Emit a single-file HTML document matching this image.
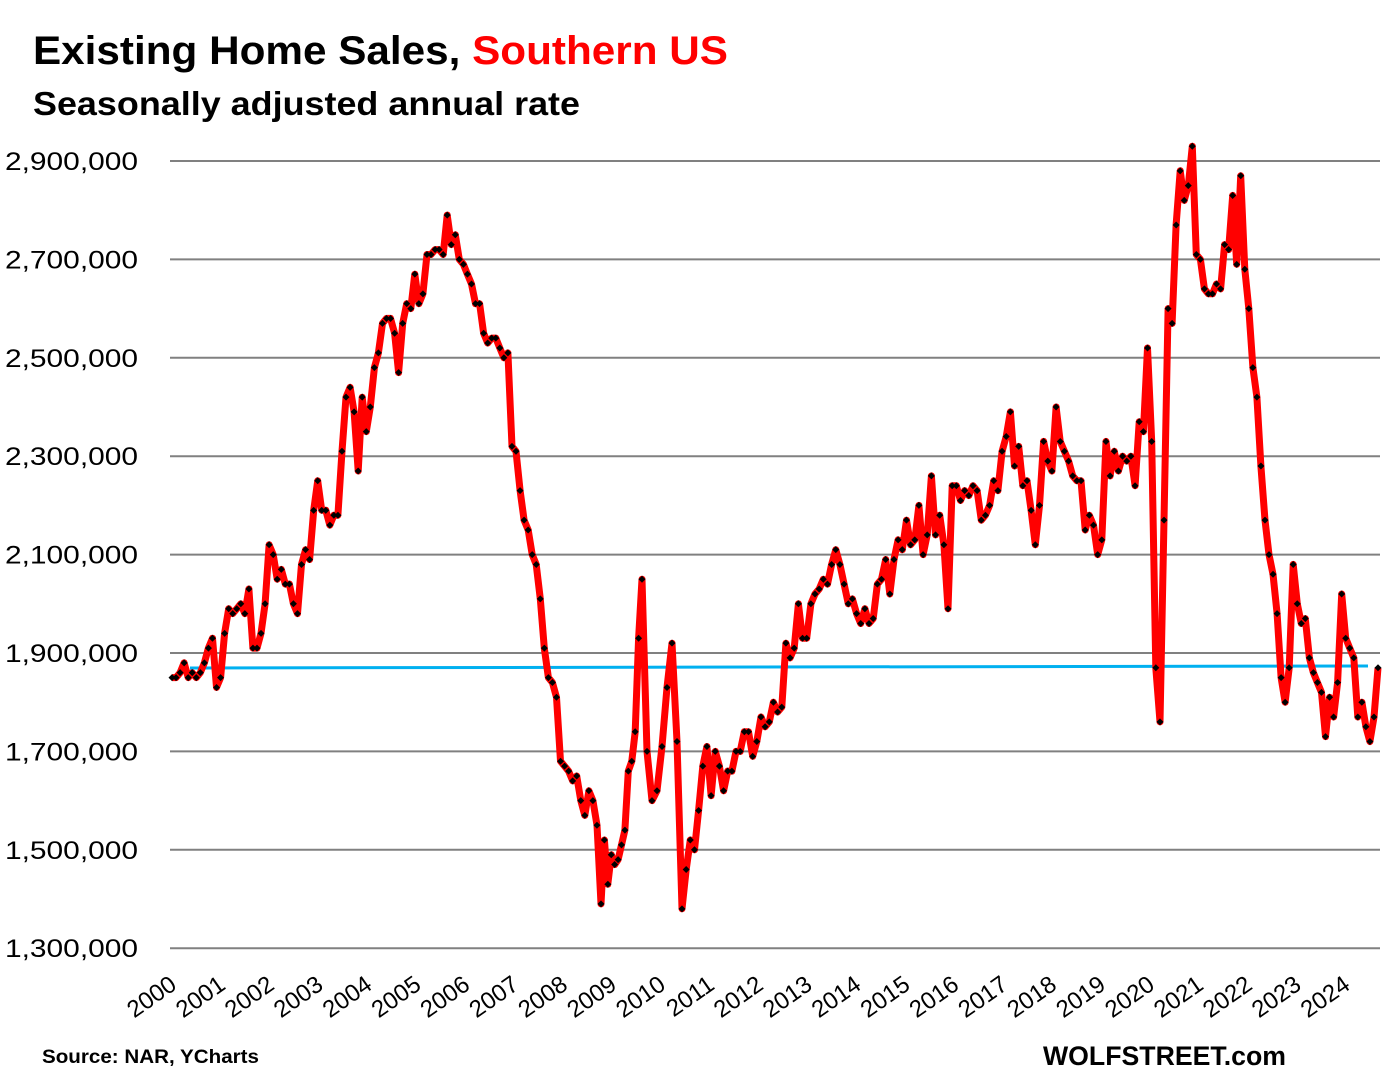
<!DOCTYPE html>
<html><head><meta charset="utf-8"><style>
html,body{margin:0;padding:0;background:#fff;}
svg{display:block;font-family:"Liberation Sans",sans-serif;}
</style></head><body>
<svg id="s" width="1395" height="1080" viewBox="0 0 1395 1080" xmlns="http://www.w3.org/2000/svg">
<text x="33" y="64" font-size="40" font-weight="bold" textLength="695" lengthAdjust="spacingAndGlyphs"><tspan fill="#000">Existing Home Sales, </tspan><tspan fill="#ff0000">Southern US</tspan></text>
<text x="33" y="115" font-size="33" font-weight="bold" fill="#000" textLength="547" lengthAdjust="spacingAndGlyphs">Seasonally adjusted annual rate</text>
<g id="grid" stroke="#808080" stroke-width="2"></g>
<g id="ylab" font-size="25" fill="#000" text-anchor="end"></g>
<g id="xlab" font-size="24" fill="#000" text-anchor="end"></g>
<line x1="190" y1="668" x2="1368" y2="666" stroke="#00b0f0" stroke-width="3"/>
<path id="ln" fill="none" stroke="#ff0000" stroke-width="7" stroke-linejoin="round"/>
<g id="mk" fill="#000"></g>
<text x="42" y="1063" font-size="19" font-weight="bold" textLength="217" lengthAdjust="spacingAndGlyphs">Source: NAR, YCharts</text>
<text x="1043" y="1065" font-size="27" font-weight="bold" textLength="243" lengthAdjust="spacingAndGlyphs">WOLFSTREET.com</text>
</svg>
<script>
var NS="http://www.w3.org/2000/svg";
function el(t,a,p){var e=document.createElementNS(NS,t);for(var k in a)e.setAttribute(k,a[k]);document.getElementById(p).appendChild(e);return e;}
function Y(v){return 161+(2900-v)/200*98.4;}
var labs=["2,900,000","2,700,000","2,500,000","2,300,000","2,100,000","1,900,000","1,700,000","1,500,000","1,300,000"];
for(var i=0;i<9;i++){var v=2900-200*i,y=Y(v);el("line",{x1:170,x2:1380,y1:y,y2:y},"grid");
var t=el("text",{x:138,y:y+9,textLength:133,lengthAdjust:"spacingAndGlyphs"},"ylab");t.textContent=labs[i];}
for(var yr=0;yr<25;yr++){var x=178+yr*48.9,y=988;var t=el("text",{x:x,y:y,transform:"rotate(-35 "+x+" "+y+")"},"xlab");t.textContent=String(2000+yr);}
var d=[1850,1850,1860,1880,1850,1860,1850,1860,1880,1910,1930,1830,1850,1940,1990,1980,1990,2000,1980,2030,1910,1910,1940,2000,2120,2100,2050,2070,2040,2040,2000,1980,2080,2110,2090,2190,2250,2190,2190,2160,2180,2180,2310,2420,2440,2390,2270,2420,2350,2400,2480,2510,2570,2580,2580,2550,2470,2570,2610,2600,2670,2610,2630,2710,2710,2720,2720,2710,2790,2730,2750,2700,2690,2670,2650,2610,2610,2550,2530,2540,2540,2520,2500,2510,2320,2310,2230,2170,2150,2100,2080,2010,1910,1850,1840,1810,1680,1670,1660,1640,1650,1600,1570,1620,1600,1550,1390,1520,1430,1490,1470,1480,1510,1540,1660,1680,1740,1930,2050,1700,1600,1620,1710,1830,1920,1720,1380,1460,1520,1500,1580,1670,1710,1610,1700,1670,1620,1660,1660,1700,1700,1740,1740,1690,1720,1770,1750,1760,1800,1780,1790,1920,1890,1910,2000,1930,1930,2000,2020,2030,2050,2040,2080,2110,2080,2040,2000,2010,1980,1960,1990,1960,1970,2040,2050,2090,2020,2090,2130,2110,2170,2120,2130,2200,2100,2140,2260,2140,2180,2120,1990,2240,2240,2210,2230,2220,2240,2230,2170,2180,2200,2250,2230,2310,2340,2390,2280,2320,2240,2250,2190,2120,2200,2330,2290,2270,2400,2330,2310,2290,2260,2250,2250,2150,2180,2160,2100,2130,2330,2260,2310,2270,2300,2290,2300,2240,2370,2350,2520,2330,1870,1760,2170,2600,2570,2770,2880,2820,2850,2930,2710,2700,2640,2630,2630,2650,2640,2730,2720,2830,2690,2870,2680,2600,2480,2420,2280,2170,2100,2060,1980,1850,1800,1870,2080,2000,1960,1970,1890,1860,1840,1820,1730,1810,1770,1840,2020,1930,1910,1890,1770,1800,1750,1720,1770,1870];
var n=d.length;
var a=[[0,172],[106,601],[118,642],[126,682],[n-55,1160],[n-1,1378]];
function X(i){for(var k=0;k<a.length-1;k++){if(i<=a[k+1][0]){var f=(i-a[k][0])/(a[k+1][0]-a[k][0]);return a[k][1]+f*(a[k+1][1]-a[k][1]);}}return 1378;}
var p="";
for(var i=0;i<n;i++){var x=X(i),y=Y(d[i]);p+=(i?"L":"M")+x.toFixed(1)+" "+y.toFixed(1);
el("path",{d:"M"+x+" "+(y-3.5)+"L"+(x+3.5)+" "+y+"L"+x+" "+(y+3.5)+"L"+(x-3.5)+" "+y+"Z"},"mk");}
document.getElementById("ln").setAttribute("d",p);
</script>
</body></html>
